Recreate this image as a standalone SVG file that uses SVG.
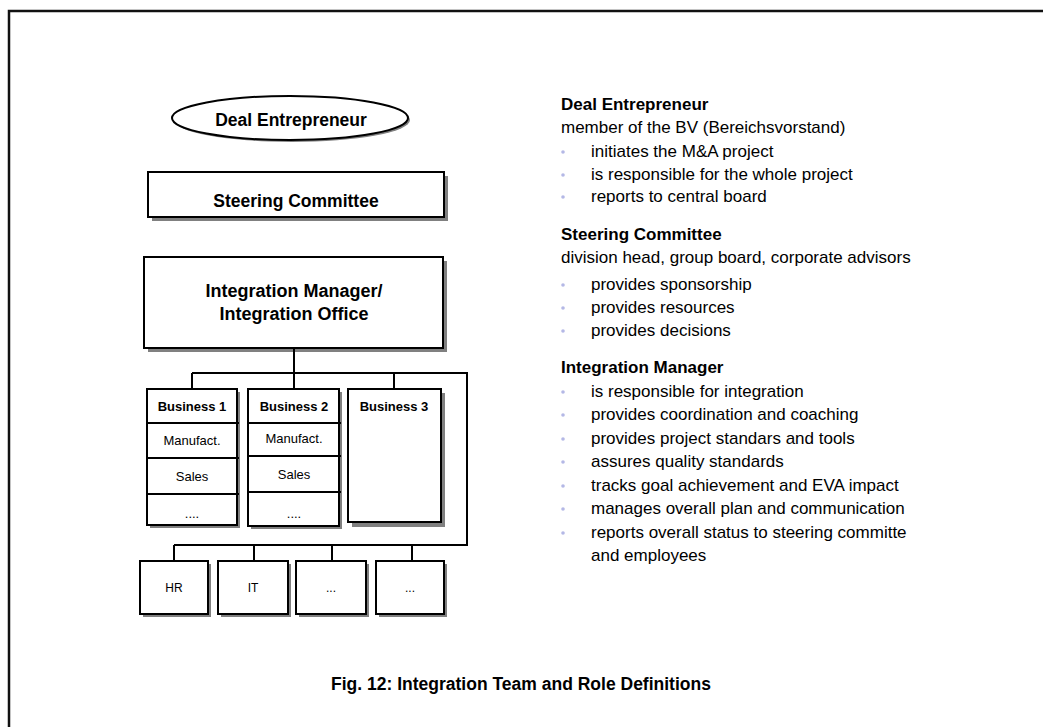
<svg xmlns="http://www.w3.org/2000/svg" width="1043" height="727" viewBox="0 0 1043 727">
<defs>
<style>
.bx{fill:#fff;stroke:#000;stroke-width:2}
.sh{fill:#808080}
.ln{fill:none;stroke:#000;stroke-width:2}
.hb{font-family:"Liberation Sans",Arial,sans-serif;font-weight:bold;fill:#000}
.t{font-family:"Liberation Sans",Arial,sans-serif;fill:#000}
.bul{fill:#b4b8e6}
</style>
</defs>
<rect x="0" y="0" width="1043" height="727" fill="#fff"/>
<path d="M9,727 V11 H1043" fill="none" stroke="#111" stroke-width="2.5"/>

<g id="deal-entrepreneur">
<ellipse cx="292" cy="120" rx="118" ry="22" class="sh"/>
<ellipse cx="290" cy="118" rx="118" ry="22" class="bx"/>
<text x="291" y="126" class="hb" font-size="17.5" text-anchor="middle">Deal Entrepreneur</text>
</g>

<g id="steering-committee">
<rect x="152" y="176" width="296" height="45" class="sh"/>
<rect x="148" y="172" width="296" height="45" class="bx"/>
<text x="296" y="207" class="hb" font-size="17.5" text-anchor="middle">Steering Committee</text>
</g>

<g id="integration-manager">
<rect x="148" y="261" width="299" height="91" class="sh"/>
<rect x="144" y="257" width="299" height="91" class="bx"/>
<text x="294" y="297" class="hb" font-size="18" text-anchor="middle">Integration Manager/</text>
<text x="294" y="320" class="hb" font-size="18" text-anchor="middle">Integration Office</text>
</g>

<g id="connectors">
<path d="M294,348 V373 M192,373 H467 V545 H174 M192,373 V389 M294,373 V389 M394,373 V389 M174,545 V561 M254,545 V561 M332,545 V561 M412,545 V561" class="ln"/>
</g>

<g id="business-1">
<rect x="150" y="392" width="90" height="136" class="sh"/>
<rect x="147" y="389" width="90" height="136" class="bx"/>
<path d="M147,423 H239 M147,458 H239 M147,494 H239" class="ln"/>
<text x="192" y="411" class="hb" font-size="13" text-anchor="middle">Business 1</text>
<text x="192" y="445" class="t" font-size="13" text-anchor="middle">Manufact.</text>
<text x="192" y="481" class="t" font-size="13" text-anchor="middle">Sales</text>
<text x="192" y="518" class="t" font-size="13" text-anchor="middle">....</text>
</g>

<g id="business-2">
<rect x="251" y="392" width="91" height="137" class="sh"/>
<rect x="248" y="389" width="91" height="137" class="bx"/>
<path d="M248,423 H341 M248,456 H341 M248,492 H341" class="ln"/>
<text x="294" y="411" class="hb" font-size="13" text-anchor="middle">Business 2</text>
<text x="294" y="443" class="t" font-size="13" text-anchor="middle">Manufact.</text>
<text x="294" y="479" class="t" font-size="13" text-anchor="middle">Sales</text>
<text x="294" y="518" class="t" font-size="13" text-anchor="middle">....</text>
</g>

<g id="business-3">
<rect x="352" y="393" width="93" height="134" class="sh"/>
<rect x="348" y="389" width="93" height="133" class="bx"/>
<text x="394" y="411" class="hb" font-size="13" text-anchor="middle">Business 3</text>
</g>

<g id="hr">
<rect x="143" y="564" width="68" height="53" class="sh"/>
<rect x="140" y="561" width="68" height="53" class="bx"/>
<text x="174" y="592" class="t" font-size="12" text-anchor="middle">HR</text>
</g>
<g id="it">
<rect x="221" y="564" width="70" height="53" class="sh"/>
<rect x="218" y="561" width="70" height="53" class="bx"/>
<text x="253" y="592" class="t" font-size="12" text-anchor="middle">IT</text>
</g>
<g id="other-1">
<rect x="299" y="564" width="70" height="53" class="sh"/>
<rect x="296" y="561" width="70" height="53" class="bx"/>
<text x="331" y="592" class="t" font-size="12" text-anchor="middle">...</text>
</g>
<g id="other-2">
<rect x="379" y="564" width="68" height="53" class="sh"/>
<rect x="376" y="561" width="68" height="53" class="bx"/>
<text x="410" y="592" class="t" font-size="12" text-anchor="middle">...</text>
</g>

<g id="roles-text">
<text x="561" y="110" class="hb" font-size="17">Deal Entrepreneur</text>
<text x="561" y="133" class="t" font-size="17">member of the BV (Bereichsvorstand)</text>
<circle cx="563" cy="152" r="1.8" class="bul"/>
<text x="591" y="157" class="t" font-size="17">initiates the M&amp;A project</text>
<circle cx="563" cy="175" r="1.8" class="bul"/>
<text x="591" y="180" class="t" font-size="17">is responsible for the whole project</text>
<circle cx="563" cy="197" r="1.8" class="bul"/>
<text x="591" y="202" class="t" font-size="17">reports to central board</text>

<text x="561" y="240" class="hb" font-size="17">Steering Committee</text>
<text x="561" y="263" class="t" font-size="17">division head, group board, corporate advisors</text>
<circle cx="563" cy="285" r="1.8" class="bul"/>
<text x="591" y="290" class="t" font-size="17">provides sponsorship</text>
<circle cx="563" cy="308" r="1.8" class="bul"/>
<text x="591" y="313" class="t" font-size="17">provides resources</text>
<circle cx="563" cy="331" r="1.8" class="bul"/>
<text x="591" y="336" class="t" font-size="17">provides decisions</text>

<text x="561" y="373" class="hb" font-size="17">Integration Manager</text>
<circle cx="563" cy="392" r="1.8" class="bul"/>
<text x="591" y="397" class="t" font-size="17">is responsible for integration</text>
<circle cx="563" cy="415" r="1.8" class="bul"/>
<text x="591" y="420" class="t" font-size="17">provides coordination and coaching</text>
<circle cx="563" cy="439" r="1.8" class="bul"/>
<text x="591" y="444" class="t" font-size="17">provides project standars and tools</text>
<circle cx="563" cy="462" r="1.8" class="bul"/>
<text x="591" y="467" class="t" font-size="17">assures quality standards</text>
<circle cx="563" cy="486" r="1.8" class="bul"/>
<text x="591" y="491" class="t" font-size="17">tracks goal achievement and EVA impact</text>
<circle cx="563" cy="509" r="1.8" class="bul"/>
<text x="591" y="514" class="t" font-size="17">manages overall plan and communication</text>
<circle cx="563" cy="533" r="1.8" class="bul"/>
<text x="591" y="538" class="t" font-size="17">reports overall status to steering committe</text>
<text x="591" y="561" class="t" font-size="17">and employees</text>
</g>

<text x="521" y="690" class="hb" font-size="17.5" text-anchor="middle">Fig. 12: Integration Team and Role Definitions</text>
</svg>
